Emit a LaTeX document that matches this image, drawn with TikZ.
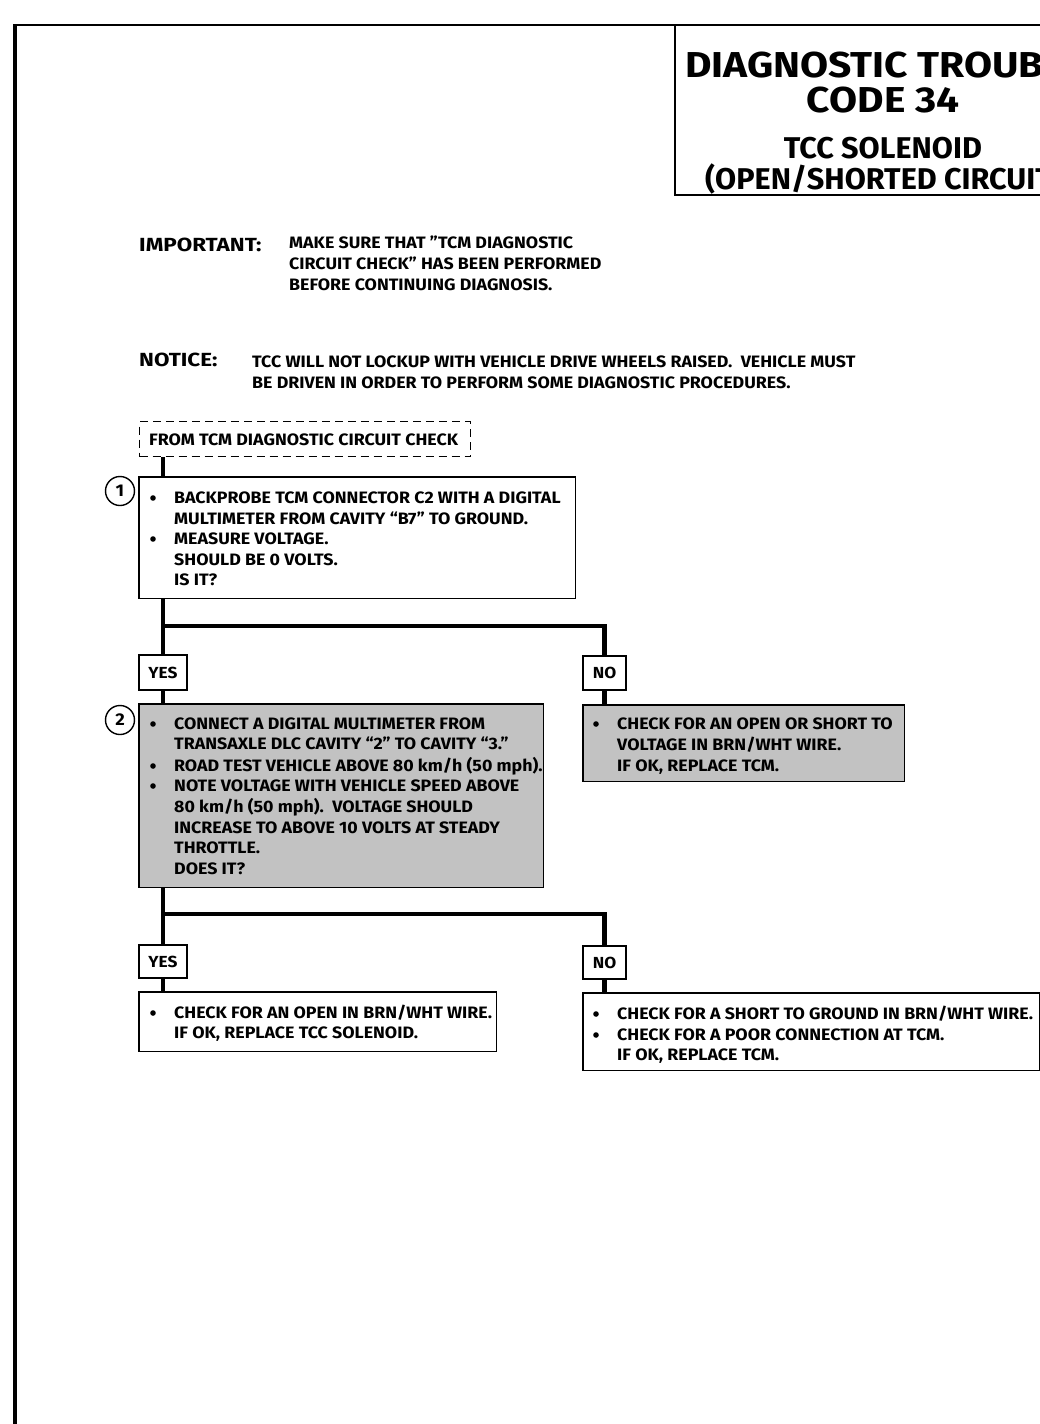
\documentclass[tikz,border=0pt]{standalone}
\usepackage{fontspec}
\setmainfont{Fira Sans}
\newfontfamily\titlefont{Fira Sans}[FakeStretch=1.13]
\newfontfamily\subtitlefont{Fira Sans}[FakeStretch=1.02]
\newfontfamily\bodyfont{Fira Sans}[FakeStretch=1.08]
\newfontfamily\headfont{Fira Sans}[FakeStretch=1.18]
\begin{document}
\begin{tikzpicture}[x=1pt,y=-1pt,
  box/.style={draw, line width=1.3pt, inner sep=0pt, anchor=north west},
  lab/.style={draw, line width=1.3pt, inner sep=0pt, anchor=center, font=\bodyfont\bfseries\fontsize{16}{18}\selectfont},
  txt/.style={anchor=base west, inner sep=0pt, font=\bodyfont\bfseries\fontsize{16.5}{19}\selectfont},
  head/.style={anchor=base west, inner sep=0pt, font=\headfont\bfseries\fontsize{19}{22}\selectfont},
  ttl/.style={inner sep=0pt, font=\titlefont\bfseries\fontsize{36}{40}\selectfont},
  subttl/.style={inner sep=0pt, font=\subtitlefont\bfseries\fontsize{30}{34}\selectfont},
  conn/.style={line width=4.5pt},
  num/.style={draw, circle, line width=1.4pt, minimum size=29pt, inner sep=0pt, font=\bodyfont\bfseries\fontsize{17}{18}\selectfont}
]
\useasboundingbox (0,0) rectangle (1040,1424);
\clip (0,0) rectangle (1040,1424);
\fill[white] (0,0) rectangle (1040,1424);

% frame
\draw[line width=2pt] (14,25) -- (1040,25);
\draw[line width=4pt] (15,24) -- (15,1424);
\draw[line width=1.5pt] (675,25) -- (675,195) -- (1040,195);

% title
\node[ttl, anchor=base west] (t1) at (685,77) {DIAGNOSTIC TROUB};
\node[ttl, anchor=base] (t2) at (883,112) {CODE 34};
\node[subttl, anchor=base] (t3) at (883,158) {TCC SOLENOID};
\node[subttl, anchor=base west] (t4) at (705,189) {(OPEN/SHORTED CIRCUIT};

% important / notice
\node[head] (imp) at (139,251) {IMPORTANT:};
\node[txt] (imp1) at (289,248.5) {MAKE SURE THAT ”TCM DIAGNOSTIC};
\node[txt] (imp2) at (289,269.5) {CIRCUIT CHECK” HAS BEEN PERFORMED};
\node[txt] (imp3) at (289,290.5) {BEFORE CONTINUING DIAGNOSIS.};
\node[head] (ntc) at (139,366) {NOTICE:};
\node[txt] (ntc1) at (252,367.5) {TCC WILL NOT LOCKUP WITH VEHICLE DRIVE WHEELS RAISED.\ \ VEHICLE MUST};
\node[txt] (ntc2) at (252,388.5) {BE DRIVEN IN ORDER TO PERFORM SOME DIAGNOSTIC PROCEDURES.};

% boxes
\node[box, dashed, dash pattern=on 8pt off 5pt, minimum width=331pt, minimum height=35pt] (d) at (139,421) {};
\node[txt] (dt) at (149,445.5) {FROM TCM DIAGNOSTIC CIRCUIT CHECK};

\node[lab, minimum width=48pt, minimum height=35pt] (y1) at (163,672.5) {YES};
\node[lab, minimum width=43pt, minimum height=34pt] (n1) at (604.5,673) {NO};
\node[lab, minimum width=48pt, minimum height=33pt] (y2) at (163,961.5) {YES};
\node[lab, minimum width=43pt, minimum height=33pt] (n2) at (604.5,962.5) {NO};

\coordinate (j1) at (163,626);
\coordinate (j2) at (163,914);

\node[box, draw=none, minimum width=435pt, minimum height=120pt] (b1) at (139,477) {};
\node[box, draw=none, minimum width=403pt, minimum height=182pt] (b2) at (139,704) {};
\node[box, draw=none, minimum width=320pt, minimum height=75pt] (n1r) at (583,705) {};
\node[box, draw=none, minimum width=356pt, minimum height=58pt] (r1) at (139,992) {};
\node[box, draw=none, minimum width=455pt, minimum height=76pt] (r2) at (583,993) {};

\draw[conn] (d.south -| y1) -- (b1.north -| y1);
\draw[conn] (b1.south -| y1) -- (y1.north);
\draw[conn] (j1) -| (n1.north);
\draw[conn] (y1.south) -- (b2.north -| y1);
\draw[conn] (n1.south) -- (n1r.north -| n1);
\draw[conn] (b2.south -| y2) -- (y2.north);
\draw[conn] (j2) -| (n2.north);
\draw[conn] (y2.south) -- (r1.north -| y2);
\draw[conn] (n2.south) -- (r2.north -| n2);

% box outlines and fills
\draw[line width=1.3pt, fill=white] (b1.north west) rectangle (b1.south east);
\draw[line width=1.3pt, fill=black!24] (b2.north west) rectangle (b2.south east);
\draw[line width=1.3pt, fill=black!24] (n1r.north west) rectangle (n1r.south east);
\draw[line width=1.3pt, fill=white] (r1.north west) rectangle (r1.south east);
\draw[line width=1.3pt, fill=white] (r2.north west) rectangle (r2.south east);

% step numbers
\node[num] (c1) at (120,491) {1};
\node[num] (c2) at (120,720) {2};

% box 1 text
\fill (153,498) circle (2.8);
\fill (153,539) circle (2.8);
\node[txt] (b1a) at (174,503.5) {BACKPROBE TCM CONNECTOR C2 WITH A DIGITAL};
\node[txt] (b1b) at (174,524.5) {MULTIMETER FROM CAVITY “B7” TO GROUND.};
\node[txt] (b1c) at (174,544.5) {MEASURE VOLTAGE.};
\node[txt] (b1d) at (174,565.5) {SHOULD BE 0 VOLTS.};
\node[txt] (b1e) at (174,585.5) {IS IT?};

% box 2 text
\fill (153,724) circle (2.8);
\fill (153,766) circle (2.8);
\fill (153,786) circle (2.8);
\node[txt] (b2a) at (174,729.5) {CONNECT A DIGITAL MULTIMETER FROM};
\node[txt] (b2b) at (174,749.5) {TRANSAXLE DLC CAVITY “2” TO CAVITY “3.”};
\node[txt] (b2c) at (174,771.5) {ROAD TEST VEHICLE ABOVE 80 km/h (50 mph).};
\node[txt] (b2d) at (174,791.5) {NOTE VOLTAGE WITH VEHICLE SPEED ABOVE};
\node[txt] (b2e) at (174,812.5) {80 km/h (50 mph).\ \ VOLTAGE SHOULD};
\node[txt] (b2f) at (174,833.5) {INCREASE TO ABOVE 10 VOLTS AT STEADY};
\node[txt] (b2g) at (174,853.5) {THROTTLE.};
\node[txt] (b2h) at (174,874.5) {DOES IT?};

% no 1 text
\fill (596,724) circle (2.8);
\node[txt] (n1a) at (617,729.5) {CHECK FOR AN OPEN OR SHORT TO};
\node[txt] (n1b) at (617,750.5) {VOLTAGE IN BRN/WHT WIRE.};
\node[txt] (n1c) at (617,771.5) {IF OK, REPLACE TCM.};

% result 1 text
\fill (153,1013) circle (2.8);
\node[txt] (r1a) at (174,1018.5) {CHECK FOR AN OPEN IN BRN/WHT WIRE.};
\node[txt] (r1b) at (174,1038.5) {IF OK, REPLACE TCC SOLENOID.};

% result 2 text
\fill (596,1014) circle (2.8);
\fill (596,1035) circle (2.8);
\node[txt] (r2a) at (617,1019.5) {CHECK FOR A SHORT TO GROUND IN BRN/WHT WIRE.};
\node[txt] (r2b) at (617,1040.5) {CHECK FOR A POOR CONNECTION AT TCM.};
\node[txt] (r2c) at (617,1060.5) {IF OK, REPLACE TCM.};
\end{tikzpicture}
\end{document}
